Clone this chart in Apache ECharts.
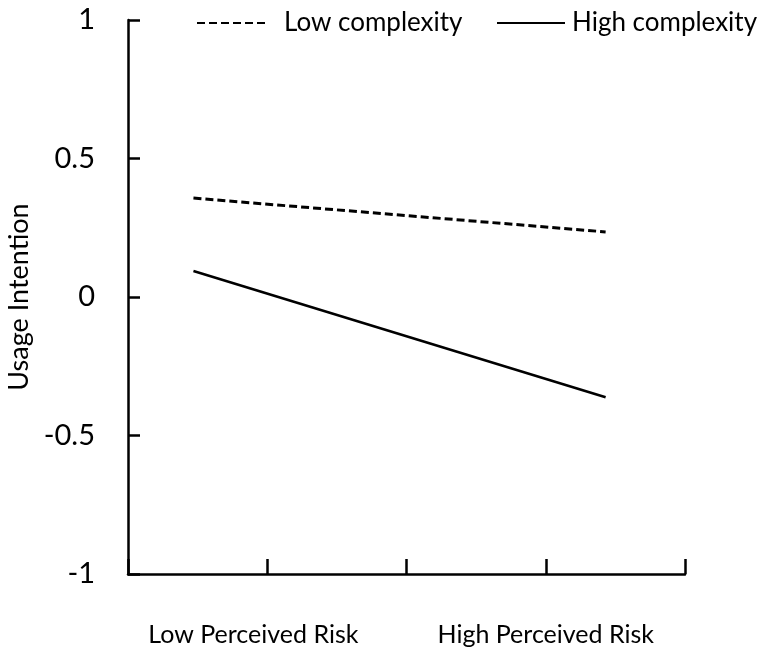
<!DOCTYPE html>
<html>
<head>
<meta charset="utf-8">
<script src="https://cdn.jsdelivr.net/npm/echarts@6/dist/echarts.min.js"></script>
<style>
  html, body { margin: 0; padding: 0; background: #fff; }
  #chart { width: 781px; height: 653px; }
</style>
</head>
<body>
<div id="chart"></div>
<script>
// risk positions on the x scale (0..4)
const riskPos = [0.47, 3.43]
const lowComplexity = [0.357, 0.235]
const highComplexity = [0.094, -0.362]
const xLabelPos = [0.9, 3.0]
const xLabels = ['Low Perceived Risk', 'High Perceived Risk']
const yTicks = [-1, -0.5, 0, 0.5, 1]

const font = 'Lato'
const chart = echarts.init(document.getElementById('chart'))

const legendBase = {
  top: 5, itemWidth: 68, itemHeight: 14,
  itemStyle: { opacity: 0 },
  textStyle: { fontFamily: font, fontSize: 26, color: '#000' }
}

chart.setOption({
  backgroundColor: '#fff',
  animation: false,
  textStyle: { fontFamily: font, color: '#000' },
  legend: [
    Object.assign({}, legendBase, { left: 191, data: ['Low complexity'], textStyle: Object.assign({}, legendBase.textStyle, { padding: [0, 0, 0, 14] }) }),
    Object.assign({}, legendBase, { left: 491, data: ['High complexity'], textStyle: Object.assign({}, legendBase.textStyle, { padding: [0, 0, 0, 2] }) })
  ],
  grid: { left: 128, right: 96, top: 20, bottom: 79, outerBoundsMode: 'none', containLabel: false },
  xAxis: {
    type: 'value', min: 0, max: 4, interval: 1,
    axisLine: { show: true, onZero: false, lineStyle: { color: '#000', width: 2.5 } },
    axisTick: { show: true, inside: true, length: 15, lineStyle: { color: '#000', width: 2.5 } },
    axisLabel: {
      customValues: xLabelPos,
      margin: 48, fontSize: 25, color: '#000', fontFamily: font,
      formatter: (v) => xLabels[xLabelPos.indexOf(v)] || ''
    },
    splitLine: { show: false }
  },
  yAxis: {
    type: 'value', min: -1, max: 1, interval: 0.5,
    name: 'Usage Intention', nameLocation: 'middle', nameGap: 84,
    nameTextStyle: { fontSize: 27, color: '#000', fontFamily: font },
    axisLine: { show: true, lineStyle: { color: '#000', width: 2.5 } },
    axisTick: { show: true, inside: true, length: 12, lineStyle: { color: '#000', width: 2.5 } },
    axisLabel: {
      margin: 33, fontSize: 29, color: '#000', fontFamily: font,
      formatter: (v) => yTicks.includes(v) ? String(v) : ''
    },
    splitLine: { show: false }
  },
  series: [
    {
      name: 'Low complexity', type: 'line', showSymbol: false, symbol: 'none',
      data: riskPos.map((x, i) => [x, lowComplexity[i]]),
      lineStyle: { color: '#000', width: 3, type: [8, 4] },
      itemStyle: { color: '#000' }
    },
    {
      name: 'High complexity', type: 'line', showSymbol: false, symbol: 'none',
      data: riskPos.map((x, i) => [x, highComplexity[i]]),
      lineStyle: { color: '#000', width: 2.5, type: 'solid' },
      itemStyle: { color: '#000' }
    }
  ]
})
</script>
</body>
</html>
